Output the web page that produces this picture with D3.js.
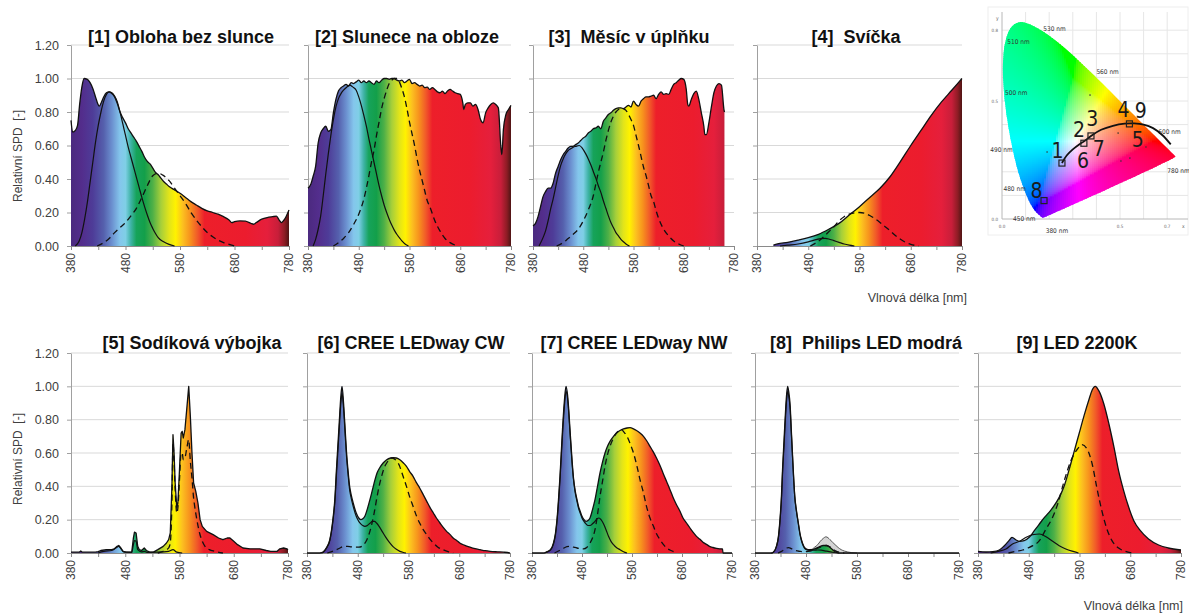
<!DOCTYPE html>
<html><head><meta charset="utf-8">
<script src="https://cdn.jsdelivr.net/npm/d3@7"></script>
<style>body{margin:0;background:#fff}svg{display:block}</style>
</head><body>
<svg id="c" width="1189" height="613"></svg>
<script>
// ---------------- DATA ----------------
const xTicks = [380,430,480,530,580,630,680,730,780];
const xTickLabels = [380,480,580,680,780];
const yTicks = [0,0.2,0.4,0.6,0.8,1.0,1.2];
const titles = ["[1] Obloha bez slunce","[2] Slunece na obloze","[3]  Měsíc v úplňku","[4]  Svíčka",
  "[5] Sodíková výbojka","[6] CREE LEDway CW","[7] CREE LEDway NW","[8]  Philips LED modrá","[9] LED 2200K"];

// [1] sky without sun
const wl1 = [380,383,388,392,396,400,404,410,415,420,425,429,432,436,440,445,450,455,460,465,470,475,480,485,490,495,500,505,510,515,520,525,530,535,540,545,550,555,560,570,580,590,600,610,620,630,640,650,660,670,675,680,690,700,710,715,720,730,740,750,757,762,766,772,780];
const spd1 = [0.75,0.68,0.69,0.72,0.85,0.95,1.0,0.995,0.975,0.94,0.89,0.85,0.835,0.86,0.89,0.915,0.92,0.91,0.89,0.85,0.80,0.765,0.735,0.70,0.675,0.65,0.625,0.595,0.565,0.53,0.505,0.49,0.465,0.44,0.425,0.405,0.385,0.37,0.355,0.335,0.315,0.29,0.265,0.245,0.225,0.21,0.20,0.19,0.175,0.155,0.14,0.145,0.15,0.148,0.135,0.13,0.14,0.16,0.17,0.175,0.178,0.155,0.14,0.16,0.215];
const sWl1 = [388,395,400,405,410,415,420,425,430,435,440,445,450,455,460,465,470,475,480,485,490,495,500,505,510,515,520,525,530,535,540,550,560,570];
const s1 = [0,0.03,0.08,0.16,0.26,0.38,0.5,0.62,0.72,0.8,0.865,0.905,0.92,0.915,0.895,0.86,0.8,0.73,0.66,0.59,0.53,0.47,0.41,0.35,0.29,0.235,0.185,0.14,0.105,0.075,0.05,0.025,0.01,0];
const dWl1 = [428,440,450,460,470,480,490,500,510,520,530,540,545,550,560,570,580,590,600,610,620,630,640,650,660,670,680];
const d1 = [0,0.02,0.045,0.08,0.11,0.14,0.18,0.225,0.29,0.36,0.42,0.435,0.43,0.42,0.39,0.345,0.3,0.255,0.2,0.155,0.115,0.08,0.055,0.035,0.02,0.01,0];

// [2] sun in the sky
const wl2 = [380,385,390,395,400,405,410,415,420,425,430,435,440,445,450,455,460,465,470,475,480,485,490,495,500,505,510,515,520,525,530,535,540,545,550,555,560,565,570,575,580,585,590,595,600,605,610,615,620,625,630,635,640,645,650,655,660,665,670,675,680,685,687,690,695,700,705,710,715,720,725,730,735,740,745,750,755,760,762,765,770,775,780];
const spd2 = [0.345,0.365,0.415,0.475,0.615,0.675,0.70,0.715,0.685,0.695,0.795,0.875,0.925,0.945,0.955,0.965,0.955,0.975,0.97,0.98,0.99,0.975,0.985,0.975,0.985,0.975,0.965,0.985,0.975,0.99,1.0,1.0,0.995,1.0,1.0,0.99,0.985,0.99,0.975,0.985,0.995,0.97,0.975,0.965,0.955,0.96,0.945,0.948,0.935,0.945,0.935,0.92,0.915,0.925,0.91,0.925,0.935,0.925,0.915,0.91,0.905,0.855,0.815,0.845,0.855,0.855,0.835,0.845,0.815,0.755,0.735,0.795,0.825,0.845,0.855,0.845,0.825,0.595,0.545,0.695,0.785,0.815,0.84];
const sWl2 = [390,395,400,405,410,415,420,425,430,435,440,445,450,455,462,468,475,480,485,490,495,500,505,510,515,520,525,530,535,540,545,550,555,560,565,570,578];
const s2 = [0,0.04,0.1,0.18,0.3,0.43,0.55,0.66,0.755,0.83,0.88,0.91,0.93,0.945,0.96,0.95,0.93,0.89,0.84,0.78,0.715,0.64,0.57,0.5,0.43,0.36,0.3,0.245,0.2,0.16,0.125,0.095,0.07,0.05,0.03,0.015,0];
const dWl2 = [430,440,450,460,470,480,490,500,505,510,515,520,525,530,535,540,545,550,555,560,565,570,575,580,585,590,595,600,605,610,615,620,630,640,650,660,675];
const d2 = [0,0.02,0.045,0.08,0.13,0.19,0.28,0.42,0.5,0.57,0.66,0.74,0.82,0.88,0.93,0.97,0.99,1.0,1.0,0.98,0.94,0.89,0.82,0.74,0.67,0.6,0.52,0.45,0.39,0.33,0.27,0.235,0.15,0.09,0.045,0.02,0];

// [3] full moon
const wl3 = [380,385,390,395,400,405,410,415,420,425,430,435,440,445,450,455,460,465,470,475,480,485,490,495,500,505,510,515,520,525,530,535,540,545,550,555,560,565,570,575,580,585,590,595,600,605,610,615,620,625,630,635,640,645,650,655,660,665,670,675,680,685,688,690,695,700,705,710,715,720,722,725,730,735,740,745,750,755,760,761];
const spd3 = [0.12,0.135,0.175,0.235,0.295,0.325,0.345,0.345,0.375,0.435,0.475,0.515,0.545,0.565,0.585,0.595,0.595,0.605,0.615,0.63,0.645,0.655,0.675,0.685,0.70,0.705,0.715,0.70,0.745,0.765,0.785,0.795,0.81,0.82,0.825,0.825,0.82,0.83,0.84,0.83,0.865,0.845,0.835,0.865,0.88,0.89,0.89,0.895,0.90,0.88,0.905,0.92,0.905,0.91,0.905,0.935,0.965,0.975,0.99,1.0,0.995,0.935,0.845,0.835,0.875,0.91,0.925,0.875,0.795,0.715,0.665,0.665,0.735,0.83,0.915,0.955,0.97,0.96,0.815,0.80];
const sWl3 = [392,400,405,410,415,420,425,430,435,440,445,450,455,460,465,472,478,485,490,495,500,505,510,515,520,525,530,535,540,545,550,555,560,565,572];
const s3 = [0,0.05,0.09,0.15,0.22,0.28,0.35,0.42,0.48,0.52,0.55,0.57,0.58,0.59,0.595,0.6,0.585,0.55,0.52,0.485,0.445,0.405,0.36,0.32,0.27,0.225,0.18,0.14,0.11,0.08,0.06,0.04,0.025,0.012,0];
const dWl3 = [427,440,450,460,470,480,490,500,505,510,515,520,525,530,535,540,545,550,555,560,565,570,575,580,585,590,595,600,605,610,615,620,625,630,640,650,660,670,680];
const d3v = [0,0.02,0.045,0.07,0.1,0.15,0.215,0.3,0.37,0.44,0.5,0.56,0.63,0.69,0.74,0.775,0.8,0.815,0.825,0.82,0.81,0.785,0.755,0.72,0.66,0.6,0.535,0.47,0.42,0.36,0.3,0.265,0.21,0.165,0.1,0.06,0.03,0.012,0];

// [4] candle
const wl4 = [412,420,440,460,480,500,520,540,560,580,600,620,640,660,680,700,720,740,760,770,780];
const spd4 = [0.005,0.012,0.022,0.035,0.05,0.07,0.1,0.135,0.185,0.235,0.29,0.345,0.415,0.505,0.6,0.69,0.78,0.86,0.93,0.965,1.0];
const sWl4 = [425,440,460,480,495,505,513,520,530,540,550,560,570];
const s4 = [0,0.005,0.012,0.025,0.038,0.044,0.045,0.042,0.032,0.022,0.012,0.005,0];
const dWl4 = [484,490,500,510,520,530,540,550,560,570,580,590,600,610,620,630,640,650,660,670,680,695];
const d4 = [0,0.01,0.028,0.055,0.085,0.115,0.15,0.175,0.19,0.198,0.2,0.195,0.182,0.163,0.14,0.115,0.09,0.063,0.04,0.022,0.01,0];

// [5] sodium lamp
const wl5 = [380,395,398,401,425,430,435,445,455,460,465,468,472,476,482,492,495,497,500,503,506,510,515,519,525,532,540,550,556,560,563,566,568,570,572,575,577,580,583,585,587,590,593,597,600,603,606,610,614,618,622,630,642,652,660,668,673,680,687,697,710,728,740,748,760,765,772,778,780];
const spd5 = [0.005,0.005,0.012,0.005,0.005,0.008,0.015,0.02,0.02,0.025,0.04,0.045,0.03,0.01,0.005,0.005,0.09,0.125,0.12,0.04,0.02,0.015,0.03,0.015,0.005,0.005,0.02,0.04,0.06,0.08,0.12,0.4,0.71,0.6,0.42,0.27,0.3,0.5,0.72,0.73,0.69,0.74,0.85,1.0,0.82,0.6,0.42,0.37,0.3,0.2,0.16,0.13,0.11,0.09,0.08,0.09,0.09,0.07,0.05,0.03,0.025,0.025,0.015,0.01,0.01,0.025,0.03,0.025,0.02];
const sWl5 = [430,440,455,465,468,472,478,492,495,497,500,503,510,515,520,540,560,568,575,585];
const s5 = [0,0.01,0.015,0.035,0.04,0.025,0.005,0.004,0.05,0.075,0.07,0.02,0.007,0.01,0.004,0.005,0.01,0.02,0.005,0];
const dWl5 = [540,550,556,560,563,566,568,570,572,575,577,580,583,585,587,590,593,597,600,603,606,608,612,617,622,627,635,645,660];
const d5 = [0,0.01,0.02,0.03,0.06,0.3,0.66,0.55,0.38,0.24,0.27,0.44,0.6,0.6,0.56,0.57,0.62,0.68,0.55,0.45,0.33,0.28,0.2,0.12,0.07,0.04,0.02,0.01,0];

// [6] CREE LEDway CW
const wl6 = [380,405,412,418,425,431,435,438,443,447,449,452,455,458,461,464,467,471,477,482,486,490,494,499,504,509,514,518,523,530,537,545,550,556,563,570,576,582,589,595,602,609,616,622,629,635,642,648,655,662,668,675,681,690,701,711,721,731,741,755,767,775,780];
const spd6 = [0,0,0.005,0.03,0.08,0.2,0.33,0.5,0.755,0.95,1.0,0.9,0.75,0.6,0.49,0.4,0.35,0.3,0.24,0.21,0.2,0.205,0.22,0.265,0.32,0.38,0.44,0.48,0.51,0.54,0.56,0.57,0.572,0.57,0.56,0.54,0.52,0.49,0.46,0.425,0.39,0.35,0.31,0.275,0.24,0.21,0.18,0.155,0.13,0.11,0.09,0.075,0.06,0.047,0.035,0.026,0.02,0.014,0.01,0.007,0.005,0.003,0];
const sWl6 = [410,418,425,431,435,438,443,447,449,452,455,458,461,464,467,471,477,482,486,490,494,499,504,509,513,517,522,528,535,542,549,556,563,570,575];
const s6 = [0,0.028,0.075,0.19,0.31,0.47,0.72,0.91,0.96,0.87,0.72,0.575,0.47,0.38,0.33,0.28,0.22,0.19,0.175,0.165,0.16,0.165,0.178,0.19,0.19,0.18,0.16,0.13,0.095,0.065,0.04,0.022,0.01,0.003,0];
const dWl6 = [420,430,438,445,450,455,460,467,475,482,488,493,498,503,507,512,517,522,527,532,537,542,547,552,557,562,566,571,576,582,589,596,602,609,616,623,629,638,648,658,668];
const d6 = [0,0.01,0.02,0.03,0.038,0.04,0.04,0.037,0.035,0.035,0.04,0.055,0.08,0.12,0.165,0.235,0.32,0.4,0.46,0.51,0.54,0.56,0.57,0.565,0.55,0.525,0.49,0.445,0.4,0.34,0.28,0.22,0.18,0.14,0.11,0.08,0.06,0.035,0.02,0.008,0];

// [7] CREE LEDway NW
const wl7 = [380,403,410,417,423,427,430,433,436,441,445,448,451,453,456,460,463,466,470,473,477,480,484,488,492,496,501,506,511,516,521,526,531,536,543,549,556,563,570,576,583,589,596,603,609,616,622,629,636,642,649,656,662,669,676,682,689,696,702,709,716,722,729,735,742,749,755,761,762,780];
const spd7 = [0,0,0.008,0.02,0.06,0.12,0.2,0.32,0.46,0.74,0.92,1.0,0.95,0.88,0.74,0.56,0.45,0.38,0.32,0.28,0.245,0.22,0.2,0.19,0.195,0.21,0.26,0.32,0.4,0.48,0.545,0.6,0.64,0.67,0.7,0.72,0.735,0.745,0.75,0.752,0.745,0.735,0.72,0.7,0.675,0.64,0.61,0.57,0.525,0.48,0.43,0.38,0.335,0.29,0.25,0.21,0.18,0.15,0.125,0.1,0.082,0.065,0.052,0.04,0.033,0.028,0.025,0.024,0,0];
const sWl7 = [405,417,423,427,430,433,436,441,445,448,451,453,456,460,463,466,470,473,477,480,484,488,492,496,501,506,510,514,518,523,528,533,538,543,550,556,563,570];
const s7 = [0,0.018,0.055,0.11,0.19,0.3,0.44,0.71,0.89,0.97,0.93,0.86,0.72,0.545,0.44,0.37,0.31,0.27,0.235,0.21,0.19,0.175,0.165,0.165,0.175,0.19,0.205,0.21,0.2,0.175,0.14,0.1,0.07,0.05,0.03,0.02,0.008,0];
const dWl7 = [425,435,443,450,456,463,470,477,483,490,496,501,506,511,516,521,526,531,536,543,549,555,559,564,570,577,583,590,596,603,609,616,623,629,636,643,649,656,662,670];
const d7 = [0,0.015,0.028,0.038,0.04,0.035,0.03,0.027,0.025,0.035,0.06,0.09,0.14,0.23,0.34,0.43,0.52,0.59,0.64,0.69,0.72,0.735,0.74,0.725,0.7,0.65,0.6,0.52,0.44,0.36,0.28,0.21,0.16,0.115,0.08,0.05,0.03,0.018,0.01,0];

// [8] Philips LED blue
const wl8 = [380,412,416,422,426,429,432,434,437,439,442,444,446,449,451,454,456,458,461,465,468,471,475,478,484,491,497,503,508,514,520,525,530,535,540,545,780];
const spd8 = [0,0,0.005,0.04,0.1,0.2,0.35,0.5,0.68,0.8,0.95,1.0,0.97,0.88,0.75,0.56,0.44,0.34,0.26,0.18,0.12,0.08,0.045,0.03,0.02,0.02,0.025,0.032,0.04,0.045,0.045,0.038,0.025,0.012,0.004,0,0];
const gWl8 = [484,491,497,503,508,514,519,523,527,532,537,543,549,555,562,570,580];
const g8 = [0.02,0.022,0.035,0.05,0.07,0.088,0.097,0.092,0.08,0.065,0.05,0.033,0.02,0.012,0.006,0.002,0];
const sWl8 = [412,416,422,426,429,432,434,437,439,442,444,446,449,451,454,456,458,461,465,468,471,475,478,484,491,497,503,510,517,525,535,545];
const s8 = [0,0.005,0.038,0.095,0.19,0.33,0.48,0.65,0.77,0.92,0.97,0.945,0.86,0.735,0.55,0.435,0.335,0.255,0.175,0.115,0.075,0.04,0.025,0.017,0.016,0.017,0.018,0.017,0.013,0.008,0.003,0];
const dWl8 = [425,432,437,442,446,450,455,460,468,475,484,492,500,508,515,520,526,532,538,545,555];
const d8 = [0,0.01,0.02,0.03,0.032,0.028,0.02,0.014,0.01,0.008,0.01,0.015,0.025,0.035,0.043,0.045,0.038,0.025,0.013,0.005,0];

// [9] LED 2200K
const wl9 = [380,396,409,422,432,441,447,455,462,471,481,491,501,511,520,530,540,550,559,569,579,589,599,605,611,618,628,638,648,657,667,677,687,700,716,736,755,780];
const spd9 = [0.01,0.006,0.008,0.018,0.044,0.074,0.094,0.078,0.07,0.074,0.094,0.134,0.174,0.214,0.244,0.284,0.334,0.404,0.494,0.604,0.714,0.824,0.924,0.978,1.0,0.974,0.894,0.774,0.634,0.494,0.374,0.274,0.194,0.134,0.084,0.048,0.03,0.018];
const sWl9 = [405,420,435,448,462,475,488,501,514,527,540,553,569,578];
const s9 = [0,0.01,0.024,0.054,0.07,0.094,0.11,0.114,0.098,0.07,0.044,0.024,0.008,0];
const dWl9 = [440,455,468,478,488,501,514,527,537,550,563,576,585,595,605,614,624,634,644,657,670,683];
const d9 = [0,0.01,0.018,0.03,0.044,0.074,0.144,0.214,0.294,0.434,0.554,0.624,0.65,0.624,0.534,0.394,0.254,0.144,0.074,0.03,0.01,0];

// CIE 1931 spectral locus
const locusWl = [380,400,420,430,440,445,450,455,460,465,470,475,480,485,490,495,500,505,510,515,520,525,530,535,540,545,550,555,560,565,570,575,580,585,590,595,600,610,620,630,640,650,680,780];
const locusX = [0.1741,0.1733,0.1714,0.1689,0.1644,0.1611,0.1566,0.1510,0.1440,0.1355,0.1241,0.1096,0.0913,0.0687,0.0454,0.0235,0.0082,0.0039,0.0139,0.0389,0.0743,0.1142,0.1547,0.1929,0.2296,0.2658,0.3016,0.3373,0.3731,0.4087,0.4441,0.4788,0.5125,0.5448,0.5752,0.6029,0.6270,0.6658,0.6915,0.7079,0.7190,0.7260,0.7334,0.7347];
const locusY = [0.0050,0.0048,0.0051,0.0069,0.0109,0.0138,0.0177,0.0227,0.0297,0.0399,0.0578,0.0868,0.1327,0.2007,0.2950,0.4127,0.5384,0.6548,0.7502,0.8120,0.8338,0.8262,0.8059,0.7816,0.7543,0.7243,0.6923,0.6589,0.6245,0.5896,0.5547,0.5202,0.4866,0.4544,0.4242,0.3965,0.3725,0.3340,0.3083,0.2920,0.2809,0.2740,0.2666,0.2653];
const locusLabels = ["530 nm","510 nm","560 nm","500 nm","490 nm","600 nm","780 nm","480 nm","450 nm","380 nm"];
const locusLabelX = [0.175,0.022,0.400,0.013,-0.05,0.662,0.700,0.006,0.047,0.185];
const locusLabelY = [0.806,0.750,0.625,0.535,0.292,0.370,0.205,0.128,0.0,-0.05];
const curveX = [0.254,0.275,0.300,0.330,0.349,0.377,0.420,0.470,0.520,0.560,0.600,0.640,0.680,0.715];
const curveY = [0.237,0.270,0.295,0.318,0.330,0.352,0.378,0.395,0.404,0.405,0.400,0.385,0.355,0.316];
const markX = [0.254,0.347,0.377,0.540,0.178];
const markY = [0.237,0.321,0.352,0.403,0.078];
const ptLabels = ["1","2","3","4","5","6","7","8","9"];
const ptLabelX = [0.235,0.326,0.383,0.515,0.575,0.343,0.410,0.146,0.588];
const ptLabelY = [0.258,0.347,0.394,0.432,0.305,0.216,0.267,0.089,0.428];
const dotX = [0.373,0.492,0.610,0.504,0.542,0.191];
const dotY = [0.525,0.364,0.305,0.246,0.258,0.284];
const cieTicksX = [0.0,0.5,0.7];
const cieTicksY = [0.0,0.5,0.8];

// spectral gradient (style)
const gradWl = [380,400,420,440,455,470,480,490,500,515,530,545,560,572,585,598,612,625,700,740,760,772,780];
const gradColors = ["#4b2a7f","#532d8c","#4e3c98","#5560ad","#6b8fcf","#84c6ec","#7fcfe6","#3eb3a5","#16a35a","#139f4a","#4fb047","#a6cf3a","#e2e41a","#fff200","#fcc020","#f7941d","#f15a29","#ed1f2a","#ec1c2e","#e51f3c","#c81e3a","#8c1c24","#4e1414"];

// ---------------- LAYOUT ----------------
const layout = [
  {x0:71,x1:289,yb:246,yt:45,tx:181,ty:43,yl:true},
  {x0:308,x1:511,yb:246,yt:45,tx:407,ty:43},
  {x0:533,x1:734,yb:246,yt:45,tx:629,ty:43},
  {x0:757,x1:962,yb:246,yt:45,tx:856,ty:43},
  {x0:71,x1:288,yb:553,yt:353,tx:192,ty:349,yl:true},
  {x0:307,x1:510,yb:553,yt:353,tx:411,ty:349},
  {x0:532,x1:732,yb:553,yt:353,tx:634,ty:349},
  {x0:755,x1:959,yb:553,yt:353,tx:866,ty:349},
  {x0:978,x1:1181,yb:553,yt:353,tx:1077,ty:349}
];
const series = [
  {wl:wl1,v:spd1,sw:sWl1,s:s1,dw:dWl1,d:d1},
  {wl:wl2,v:spd2,sw:sWl2,s:s2,dw:dWl2,d:d2},
  {wl:wl3,v:spd3,sw:sWl3,s:s3,dw:dWl3,d:d3v},
  {wl:wl4,v:spd4,sw:sWl4,s:s4,dw:dWl4,d:d4},
  {wl:wl5,v:spd5,sw:sWl5,s:s5,dw:dWl5,d:d5,linear:true},
  {wl:wl6,v:spd6,sw:sWl6,s:s6,dw:dWl6,d:d6},
  {wl:wl7,v:spd7,sw:sWl7,s:s7,dw:dWl7,d:d7},
  {wl:wl8,v:spd8,sw:sWl8,s:s8,dw:dWl8,d:d8,gw:gWl8,g:g8},
  {wl:wl9,v:spd9,sw:sWl9,s:s9,dw:dWl9,d:d9}
];

const FONT = "'Liberation Sans', Arial, Helvetica, sans-serif";
const svg = d3.select("#c");
const defs = svg.append("defs");
const zip = (w,v) => w.map((d,i)=>[d,v[i]]);

series.forEach((S,i) => {
  const L = layout[i];
  const x = d3.scaleLinear().domain([380,780]).range([L.x0,L.x1]);
  const y = d3.scaleLinear().domain([0,1.2]).range([L.yb,L.yt]);
  const g = svg.append("g");

  g.selectAll("line.grid").data(yTicks.filter(t=>t>0)).join("line").attr("class","grid")
    .attr("x1",L.x0).attr("x2",L.x1).attr("y1",d=>y(d)).attr("y2",d=>y(d))
    .attr("stroke","#d9d9d9").attr("stroke-width",1);

  const ya = d3.axisLeft(y).tickValues(yTicks).tickSize(4).tickSizeOuter(0).tickPadding(8)
    .tickFormat(L.yl ? d3.format(".2f") : () => "");
  const yg = g.append("g").attr("transform",`translate(${L.x0},0)`).call(ya);
  yg.select(".domain").attr("stroke","#a0a0a0");
  yg.selectAll(".tick line").attr("stroke","#a0a0a0");
  yg.selectAll("text").attr("fill","#404040").style("font-size","12.5px").style("font-family",FONT);

  const xa = d3.axisBottom(x).tickValues(xTicks).tickSize(4).tickSizeOuter(0)
    .tickFormat(d => xTickLabels.includes(d) ? String(d) : "");
  const xg = g.append("g").attr("transform",`translate(0,${L.yb})`).call(xa);
  xg.select(".domain").attr("stroke","#8a8a8a");
  xg.selectAll(".tick line").attr("stroke","#8a8a8a");
  xg.selectAll("text").attr("fill","#404040").style("font-size","12px").style("font-family",FONT)
    .attr("transform","rotate(-90)").attr("x",-7).attr("y",0).attr("dy","0.33em").style("text-anchor","end");

  const gid = "spec"+i;
  const lg = defs.append("linearGradient").attr("id",gid).attr("gradientUnits","userSpaceOnUse")
    .attr("x1",x(380)).attr("x2",x(780)).attr("y1",0).attr("y2",0);
  lg.selectAll("stop").data(gradWl).join("stop")
    .attr("offset",d=>(d-380)/400).attr("stop-color",(d,j)=>gradColors[j]);

  const curve = S.linear ? d3.curveLinear : d3.curveMonotoneX;
  const area = d3.area().x(d=>x(d[0])).y0(y(0)).y1(d=>y(d[1])).curve(curve);
  const line = d3.line().x(d=>x(d[0])).y(d=>y(d[1])).curve(curve);
  const sline = d3.line().x(d=>x(d[0])).y(d=>y(d[1])).curve(d3.curveMonotoneX);

  if (S.g) {
    const gd = zip(S.gw,S.g);
    const garea = d3.area().x(d=>x(d[0])).y0(y(0)).y1(d=>y(d[1])).curve(d3.curveMonotoneX);
    g.append("path").datum(gd).attr("d",garea).attr("fill","#d4d4d4");
    g.append("path").datum(gd).attr("d",sline).attr("fill","none").attr("stroke","#555").attr("stroke-width",1);
  }
  const sd = zip(S.wl,S.v);
  g.append("path").datum(sd).attr("d",area).attr("fill",`url(#${gid})`);
  g.append("path").datum(sd).attr("d",line).attr("fill","none").attr("stroke","#111").attr("stroke-width",1.3).attr("stroke-linejoin","round");
  g.append("path").datum(zip(S.sw,S.s)).attr("d",sline).attr("fill","none").attr("stroke","#111").attr("stroke-width",1.2);
  g.append("path").datum(zip(S.dw,S.d)).attr("d",sline).attr("fill","none").attr("stroke","#111").attr("stroke-width",1.3).attr("stroke-dasharray","6,4");

  svg.append("text").attr("x",L.tx).attr("y",L.ty).attr("text-anchor","middle")
    .style("white-space","pre").style("font-family",FONT).style("font-weight","bold").style("font-size","18px")
    .attr("fill","#111").text(titles[i]);
});

// axis titles
[156,459].forEach(cyv => {
  svg.append("text").attr("transform",`translate(22,${cyv}) rotate(-90)`).attr("text-anchor","middle")
    .style("white-space","pre").style("font-family",FONT).style("font-size","12px").attr("fill","#404040").text("Relativní SPD  [-]");
});
svg.append("text").attr("x",967).attr("y",302).attr("text-anchor","end").style("font-family",FONT)
  .style("font-size","12.5px").attr("fill","#404040").text("Vlnová délka [nm]");
svg.append("text").attr("x",1183).attr("y",610).attr("text-anchor","end").style("font-family",FONT)
  .style("font-size","12.5px").attr("fill","#404040").text("Vlnová délka [nm]");

// ---------------- CIE diagram ----------------
const cx = d3.scaleLinear().domain([0,0.8]).range([1002,1002+0.8*236]);
const cy = d3.scaleLinear().domain([0,0.9]).range([219,219-0.9*236]);
const cie = svg.append("g");
cie.append("rect").attr("x",988).attr("y",7).attr("width",200).attr("height",228).attr("fill","#fff").attr("stroke","#eeeeee");
const gxs = [0.1,0.2,0.3,0.4,0.5,0.6,0.7], gys = [0.1,0.2,0.3,0.4,0.5,0.6,0.7,0.8];
cie.selectAll("line.vx").data(gxs).join("line").attr("x1",d=>cx(d)).attr("x2",d=>cx(d)).attr("y1",cy(0)).attr("y2",12).attr("stroke","#e6e6e6");
cie.selectAll("line.hy").data(gys).join("line").attr("y1",d=>cy(d)).attr("y2",d=>cy(d)).attr("x1",cx(0)).attr("x2",1188).attr("stroke","#e6e6e6");
cie.append("line").attr("x1",cx(0)).attr("x2",cx(0)).attr("y1",cy(0)).attr("y2",12).attr("stroke","#b8b8b8");
cie.append("line").attr("x1",cx(0)).attr("x2",1188).attr("y1",cy(0)).attr("y2",cy(0)).attr("stroke","#b8b8b8");

const locusPts = locusX.map((v,i)=>[cx(v),cy(locusY[i])]);
defs.append("clipPath").attr("id","locus").append("path")
  .attr("d", d3.line().curve(d3.curveCatmullRomClosed)(locusPts));
function xyColor(px,py){
  const X=px/py, Y=1, Z=(1-px-py)/py;
  let r=3.2406*X-1.5372*Y-0.4986*Z, g=-0.9689*X+1.8758*Y+0.0415*Z, b=0.0557*X-0.2040*Y+1.0570*Z;
  const m=Math.min(r,g,b); if(m<0){r-=0.35*m;g-=0.35*m;b-=0.35*m;}
  r=Math.max(0,r); g=Math.max(0,g); b=Math.max(0,b);
  const M=Math.max(r,g,b); r/=M; g/=M; b/=M;
  const gm=c=>c<=0.0031308?12.92*c:1.055*Math.pow(c,1/2.4)-0.055;
  return d3.rgb(255*gm(r),255*gm(g),255*gm(b)).toString();
}
const cells = [];
for (let px = cx(0); px < cx(0.75); px += 2) for (let py = cy(0.85); py < cy(0)+1; py += 2) {
  const xv = cx.invert(px+1), yv = Math.max(0.002, cy.invert(py+1));
  cells.push([px,py,xyColor(xv,yv)]);
}
const cg = cie.append("g").attr("clip-path","url(#locus)");
cg.selectAll("rect").data(cells).join("rect").attr("x",d=>d[0]).attr("y",d=>d[1])
  .attr("width",2.6).attr("height",2.6).attr("fill",d=>d[2]);

const cf = "'Liberation Sans Narrow','DejaVu Sans Condensed','Liberation Sans',sans-serif";
cie.selectAll("text.wl").data(locusLabels).join("text").attr("class","wl")
  .attr("x",(d,i)=>cx(locusLabelX[i])).attr("y",(d,i)=>cy(locusLabelY[i])+2)
  .style("font-family",cf).style("font-size","6.5px").attr("fill","#333").text(d=>d);
cie.selectAll("text.tx").data(cieTicksX).join("text").attr("class","tx")
  .attr("x",d=>cx(d)).attr("y",228).attr("text-anchor","middle").style("font-family",cf).style("font-size","4.5px").attr("fill","#666").text(d=>d.toFixed(1));
cie.selectAll("text.ty").data(cieTicksY).join("text").attr("class","ty")
  .attr("x",cx(0)-4).attr("y",d=>cy(d)+1.5).attr("text-anchor","end").style("font-family",cf).style("font-size","4.5px").attr("fill","#666").text(d=>d.toFixed(1));
cie.append("text").attr("x",1182).attr("y",228).style("font-family",cf).style("font-size","5px").attr("fill","#666").text("x");
cie.append("text").attr("x",996).attr("y",20).style("font-family",cf).style("font-size","5px").attr("fill","#666").text("y");

cie.selectAll("circle.dot").data(dotX).join("circle").attr("class","dot").attr("cx",d=>cx(d)).attr("cy",(d,i)=>cy(dotY[i])).attr("r",0.8).attr("fill","#333");
cie.append("path").datum(curveX.map((v,i)=>[cx(v),cy(curveY[i])]))
  .attr("d",d3.line().curve(d3.curveCatmullRom)).attr("fill","none").attr("stroke","#111").attr("stroke-width",1.8);
cie.selectAll("rect.mk").data(markX).join("rect").attr("class","mk")
  .attr("x",d=>cx(d)-3).attr("y",(d,i)=>cy(markY[i])-3).attr("width",6).attr("height",6)
  .attr("fill","none").attr("stroke","#222").attr("stroke-width",1.2);
cie.selectAll("text.pt").data(ptLabels).join("text").attr("class","pt")
  .attr("x",(d,i)=>cx(ptLabelX[i])).attr("y",(d,i)=>cy(ptLabelY[i])).attr("text-anchor","middle")
  .style("font-family",cf).style("font-size","21px").attr("fill","#1a1a1a").text(d=>d);
</script>
</body></html>
